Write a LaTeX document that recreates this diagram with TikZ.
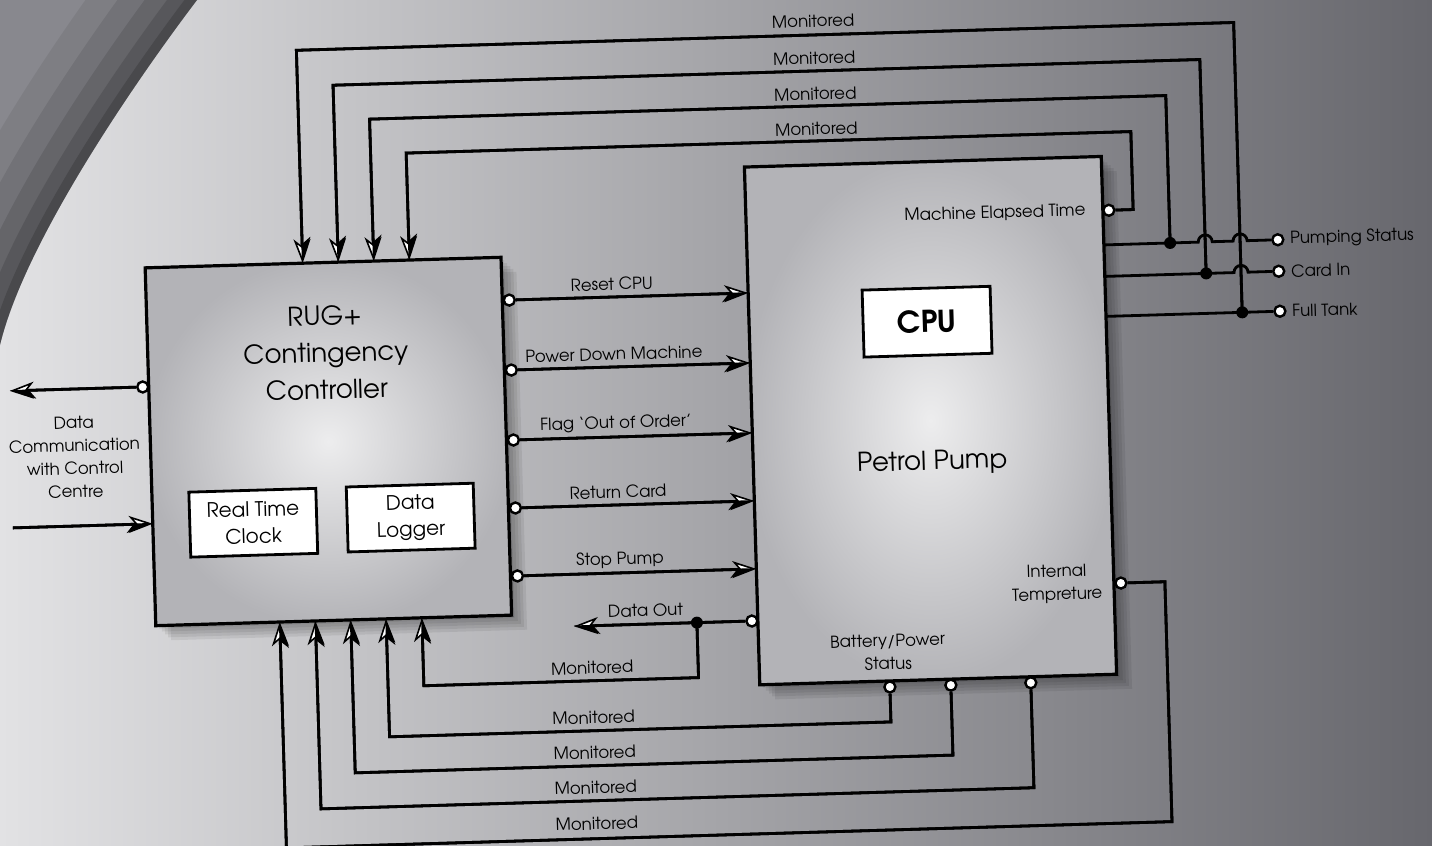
\documentclass[tikz,border=0pt]{standalone}
\usepackage{fontspec}
\setmainfont{TeX Gyre Adventor}
\usetikzlibrary{arrows.meta}
\definecolor{bgL}{HTML}{E2E2E4}
\definecolor{bgM}{HTML}{A9A9AD}
\definecolor{bgR}{HTML}{67676D}
\definecolor{bgD}{HTML}{88888E}
\definecolor{boxIn}{HTML}{EDEDEE}
\definecolor{boxOut}{HTML}{B3B3B7}
% arrow wire: white stealth with a black half (#1 = swap or harpoon)
\newcommand\awire[2]{%
  \draw[wire,-{Stealth[length=12pt,width=8.5pt,inset=3.5pt,line width=0.8pt,fill=white]}] #2;
  \draw[wire,-{Stealth[harpoon,#1,length=12pt,width=8.5pt,inset=3.5pt,line width=0.8pt,fill=black]}] #2;}
\begin{document}
\begin{tikzpicture}[x=0.5pt,y=-0.5pt,
  bigbox/.style={draw,line width=1.6pt,shading=radial,inner color=boxIn,outer color=boxOut},
  wbox/.style={draw,fill=white,line width=1.4pt,align=center,inner sep=0pt,font=\fontsize{10pt}{13.5pt}\selectfont},
  title/.style={align=center,inner sep=0pt,font=\fontsize{13pt}{18.5pt}\selectfont},
  lbl/.style={inner sep=1pt,font=\fontsize{8.3pt}{11.5pt}\selectfont},
  port/.style={circle,draw,fill=white,line width=1.2pt,inner sep=0pt,minimum size=5.5pt},
  dot/.style={circle,fill=black,inner sep=0pt,minimum size=6pt},
  wire/.style={line width=1.4pt,black,line join=miter}
]
\useasboundingbox (0,0) rectangle (1432,846);
% background
\shade[left color=bgL,middle color=bgM,right color=bgR] (0,0) rectangle (1432,846);
\begin{scope}
  \clip (0,0) -- (197,0) .. controls (140,75) and (25,240) .. (0,345) -- cycle;
  \fill[bgD] (0,0) rectangle (260,400);
  \foreach \w/\o in {90/0.07,64/0.09,42/0.11,24/0.13,10/0.16}
    \draw[line width=\w pt,black,opacity=\o] (197,0) .. controls (140,75) and (25,240) .. (0,345);
\end{scope}

\begin{scope}[rotate around={1.7:(716,423)},transform shape]
  % shadows
  \foreach \d in {3,6,9,12,15}{
    \fill[black,opacity=0.07] (150+\d,251+\d) rectangle (506+\d,609+\d);
    \fill[black,opacity=0.07] (752+\d,168+\d) rectangle (1109+\d,686+\d);
  }
  % main boxes
  \node[bigbox,minimum width=178pt,minimum height=179pt] (ctrl) at (328,430) {};
  \node[bigbox,minimum width=178.5pt,minimum height=259pt] (pump) at (930.5,427) {};
  \node[title] (ctrltxt) at (328,341) {RUG+\\Contingency\\Controller};
  \node[title] (pumptxt) at (931,469) {Petrol Pump};
  \node[wbox,minimum width=64pt,minimum height=33.5pt,font=\fontsize{15pt}{18pt}\selectfont\bfseries] (cpu) at (930,328) {CPU};
  \node[wbox,minimum width=63.5pt,minimum height=32.5pt] (rtc) at (250.5,509) {Real Time\\Clock};
  \node[wbox,minimum width=63.5pt,minimum height=32.5pt] (logger) at (408,508.5) {Data\\Logger};
  \node[lbl,anchor=east] (metl) at (1094,222) {Machine Elapsed Time};
  \node[lbl,align=center] (itl) at (1052,594) {Internal\\Tempreture};
  \node[lbl,align=center] (batl) at (881,657) {Battery/Power\\Status};

  % controller -> pump commands
  \foreach \n/\y/\t in {rc/294/Reset CPU,pd/364/Power Down Machine,fo/434/Flag `Out of Order',rcd/502/Return Card,sp/570/Stop Pump}{
    \node[port] (\n) at (513,\y) {};
    \awire{swap}{(\n) -- (752,\y)}
    \node[lbl] (\n l) at (616,\y-13) {\t};
  }

  % data out
  \node[port] (dout) at (746,622) {};
  \node[dot] (dj) at (691,622) {};
  \coordinate (doutend) at (568,622);
  \awire{harpoon}{(dout) -- (dj.center) -- (doutend)}
  \node[lbl] (doutl) at (640,608) {Data Out};
  \awire{swap}{(dj.center) -- (691,677) -- (416.2,677) -- (416.2,609)}
  \node[lbl] (m0) at (585,664) {Monitored};

  % bottom monitored lines
  \node[port] (b1) at (882,692) {};
  \node[port] (b2) at (943,692) {};
  \node[port] (b3) at (1023,692) {};
  \node[port] (itp) at (1116,595) {};
  \awire{swap}{(b1) -- (882,727) -- (380.4,727) -- (380.4,609)}
  \awire{swap}{(b2) -- (943,762) -- (345,762) -- (345,609)}
  \awire{swap}{(b3) -- (1023,797) -- (309.7,797) -- (309.7,609)}
  \awire{swap}{(itp) -- (1160,595) -- (1160,835) -- (274,835) -- (274,609)}
  \node[lbl] (m1) at (585,714) {Monitored};
  \node[lbl] (m2) at (585,749) {Monitored};
  \node[lbl] (m3) at (585,784) {Monitored};
  \node[lbl] (m4) at (585,820) {Monitored};

  % right outputs
  \node[port] (ps) at (1283,256.5) {};
  \node[port] (ci) at (1283,288) {};
  \node[port] (ft) at (1283,328) {};
  \node[dot] (pumpj) at (1175.3,256.5) {};
  \node[dot] (cardj) at (1210.4,288) {};
  \node[dot] (fullj) at (1245.3,328) {};
  \draw[wire] (1109,256.5) -- (1203.4,256.5) arc[start angle=180,end angle=0,radius=3.5pt]
     -- (1238.3,256.5) arc[start angle=180,end angle=0,radius=3.5pt] -- (ps);
  \draw[wire] (1109,288) -- (1238.3,288) arc[start angle=180,end angle=0,radius=3.5pt] -- (ci);
  \draw[wire] (1109,328) -- (ft);
  \node[lbl,anchor=west] (psl) at (1293,256.5) {Pumping Status};
  \node[lbl,anchor=west] (cil) at (1293,288) {Card In};
  \node[lbl,anchor=west] (ftl) at (1293,328) {Full Tank};

  % top monitored lines
  \node[port] (met) at (1115,222) {};
  \awire{harpoon}{(fullj.center) -- (1245.3,38) -- (307.6,38) -- (307.6,251)}
  \awire{harpoon}{(cardj.center) -- (1210.4,74) -- (343.2,74) -- (343.2,251)}
  \awire{harpoon}{(pumpj.center) -- (1175.3,109) -- (378.7,109) -- (378.7,251)}
  \awire{harpoon}{(met) -- (1139.3,222) -- (1139.3,144) -- (414.3,144) -- (414.3,251)}
  \node[lbl] (t1) at (825,24) {Monitored};
  \node[lbl] (t2) at (825,61) {Monitored};
  \node[lbl] (t3) at (825,97) {Monitored};
  \node[lbl] (t4) at (825,132) {Monitored};

  % control centre communication
  \node[port] (dco) at (144,370) {};
  \coordinate (dcoend) at (11,370);
  \coordinate (dcistart) at (10,507);
  \awire{harpoon}{(dco) -- (dcoend)}
  \awire{swap}{(dcistart) -- (150,507)}
  \node[lbl,align=center] (dcl) at (74,438) {Data\\Communication\\with Control\\Centre};
\end{scope}
\end{tikzpicture}
\end{document}
